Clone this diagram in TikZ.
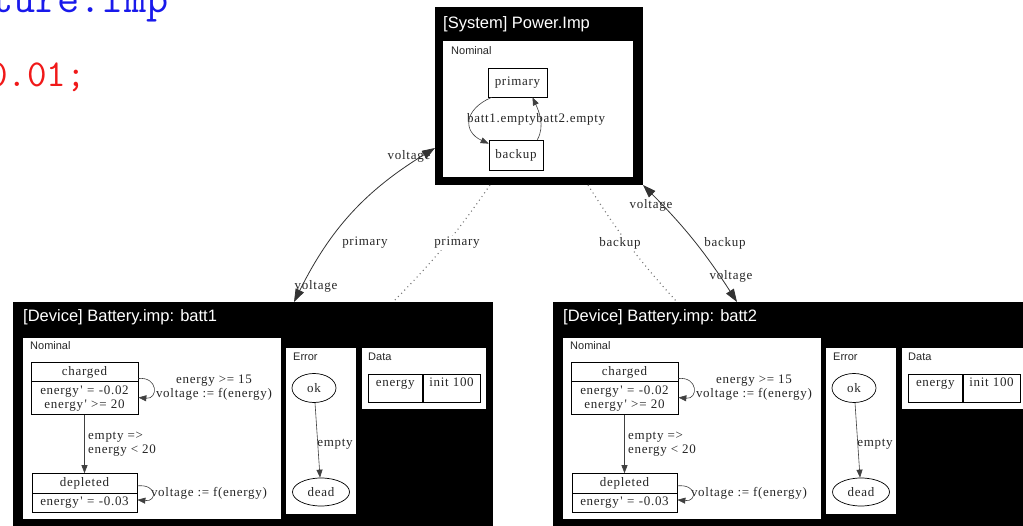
\documentclass[tikz,border=0pt]{standalone}
\usepackage{fontspec}
\usetikzlibrary{arrows.meta, positioning, shapes.geometric, shapes.multipart}

\newfontfamily\gvfont[LetterSpace=5.5]{Liberation Serif}
\newfontfamily\hdfont{Liberation Sans}
\newcommand{\gvlabel}{\gvfont\fontsize{13}{14}\selectfont}
\newcommand{\hdtitle}{\hdfont\fontsize{16.5}{18}\selectfont}
\newcommand{\hdpanel}{\hdfont\fontsize{11}{13}\selectfont}
\newcommand{\codetext}{\ttfamily\fontsize{38}{40}\selectfont}
\newcommand{\codebig}{\ttfamily\fontsize{43}{45}\selectfont}
\newcommand{\prm}{\kern1.5pt\textquotesingle}
\definecolor{codeblue}{RGB}{25,25,235}
\definecolor{codered}{RGB}{240,25,25}

\begin{document}
\begin{tikzpicture}[%
    x=1pt, y=-1pt,
    blackbox/.style={fill=black, inner sep=0pt, outer sep=0pt, anchor=north west},
    panel/.style={fill=white, inner sep=0pt, outer sep=0pt, anchor=north west},
    boxtitle/.style={text=white, font=\hdtitle, inner sep=0pt, anchor=base west},
    paneltitle/.style={font=\hdpanel, text=black!85, inner sep=0pt, anchor=north west},
    gvtext/.style={font=\gvlabel, text=black!85, inner sep=0pt},
    gvstate/.style={gvtext, draw=black, line width=0.7pt},
    record/.style={gvstate, rectangle split, rectangle split parts=2, align=center,
      inner xsep=6pt, inner ysep=3.5pt},
    loc/.style={gvstate, ellipse, inner sep=0pt},
    datacell/.style={gvstate, minimum height=28pt, text height=9pt, text depth=13pt, inner ysep=3pt},
    gvedge/.style={-{Triangle[length=8pt,width=6pt]}, black!75, line width=0.6pt},
    link/.style={{Triangle[length=13pt,width=9pt]}-{Triangle[length=13pt,width=9pt]}, black!80, line width=0.8pt},
    ref/.style={black!55, line width=1.1pt, dash pattern=on 1pt off 3.5pt}
  ]

  \useasboundingbox (0,0) rectangle (1023,526);
  \clip (0,0) rectangle (1023,526);

  \node[font=\codebig, text=codeblue, inner sep=0pt, anchor=base west] (codeA) at (-9,13) {ture.Imp};
  \node[font=\codetext, text=codered, inner sep=0pt, anchor=base west] (codeB) at (-12,87) {0.01;};

  \node[blackbox, minimum width=208pt, minimum height=178pt] (system) at (435,7) {};
  \node[boxtitle] (systitle) at (443,29) {[System] Power.Imp};
  \node[panel, minimum width=190pt, minimum height=136pt] (sysnom) at (443,41) {};
  \node[paneltitle] (sysnomlbl) at ([shift={(8pt,-5pt)}]sysnom.north west) {Nominal};

  \node[gvstate, minimum width=59pt, minimum height=29pt] (primary) at (517.5,82.5) {primary};
  \node[gvstate, minimum width=54pt, minimum height=30pt] (backup) at (516,155) {backup};
  \node[gvtext] (b1lbl) at (501.5,119) {batt1.empty};
  \node[gvtext] (b2lbl) [right=0pt of b1lbl] {batt2.empty};
  \draw[gvedge] ([xshift=4pt]primary.south west) .. controls +(-28pt,-12pt) and +(-26pt,12pt) .. ([yshift=-4pt]backup.north west);
  \draw[gvedge] ([xshift=-6pt]backup.north east) .. controls +(8pt,14pt) and +(6pt,-13pt) .. ([xshift=15pt]primary.south);

  \foreach \dev/\dx in {batt1/0, batt2/540} {
    \begin{scope}[xshift=\dx pt]
      \node[blackbox, minimum width=480pt, minimum height=230pt] (\dev) at (13,302) {};
      \node[boxtitle] (\dev-title) at (23,322) {[Device] Battery.imp: \dev};
      \node[panel, minimum width=258pt, minimum height=181pt] (\dev-nom) at (23,338) {};
      \node[panel, minimum width=70pt, minimum height=166pt] (\dev-err) at (286,348) {};
      \node[panel, minimum width=124pt, minimum height=61pt] (\dev-data) at (362,348) {};
      \node[paneltitle] (\dev-nomlbl) at ([shift={(7pt,-3pt)}]\dev-nom.north west) {Nominal};
      \node[paneltitle] (\dev-errlbl) at ([shift={(7pt,-5pt)}]\dev-err.north west) {Error};
      \node[paneltitle] (\dev-datalbl) at ([shift={(6pt,-5pt)}]\dev-data.north west) {Data};

      \node[record, text width=95pt] (\dev-charged) at (84.5,388.5)
        {charged \nodepart{two} energy\prm\ = -0.02\\ energy\prm\ >= 20};
      \node[record, text width=93pt, below=58pt of \dev-charged] (\dev-depleted)
        {depleted \nodepart{two} energy\prm\ = -0.03};
      \node[gvtext, align=left, anchor=west] (\dev-emptylbl) at (88,444) {empty =>\\energy < 20};
      \node[gvtext, align=center] (\dev-chglbl) at (214,388) {energy >= 15\\voltage := f(energy)};
      \node[gvtext] (\dev-deplbl) at (209,493) {voltage := f(energy)};
      \draw[gvedge] (\dev-charged) -- (\dev-depleted);
      \draw[gvedge] ([yshift=10pt]\dev-charged.east) .. controls +(20pt,2pt) and +(20pt,-2pt) .. ([yshift=-9pt]\dev-charged.east);
      \draw[gvedge] ([yshift=7pt]\dev-depleted.east) .. controls +(20pt,2pt) and +(20pt,-2pt) .. ([yshift=-7pt]\dev-depleted.east);

      \node[loc, minimum width=44pt, minimum height=29pt] (\dev-ok) at (314,388) {ok};
      \node[loc, minimum width=57pt, minimum height=28pt] (\dev-dead) at (321,492) {dead};
      \node[gvtext] (\dev-errlbl2) at (335,444) {empty};
      \draw[gvedge] (\dev-ok) -- (\dev-dead);

      \node[datacell, anchor=north west, minimum width=54pt] (\dev-var) at (368,374) {energy};
      \node[datacell, minimum width=57pt, right=0pt of \dev-var] (\dev-init) {init 100};
    \end{scope}
  }

  \draw[ref] ([xshift=-49pt]system.south) to[bend left=5] ([xshift=380pt]batt1.north west);
  \draw[ref] ([xshift=49pt]system.south) to[bend right=5] ([xshift=124pt]batt2.north west);

  \node[gvtext] (v1a) at (409,156) {voltage};
  \node[gvtext] (p1a) at (365,243) {primary};
  \node[gvtext] (v1b) at (316,286) {voltage};
  \node[gvtext, fill=white, inner sep=1pt] (p1b) at (457,243) {primary};
  \node[gvtext, fill=white, inner sep=1pt] (b2b) at (620,243) {backup};
  \node[gvtext] (v2a) at (651,205) {voltage};
  \node[gvtext] (b2a) at (725,243) {backup};
  \node[gvtext] (v2b) at (731,276) {voltage};

  \draw[link] ([yshift=37pt]system.south west) to[bend right=16] ([xshift=281pt]batt1.north west);
  \draw[link] (system.south east) to[bend left=6] ([xshift=184pt]batt2.north west);
\end{tikzpicture}
\end{document}
